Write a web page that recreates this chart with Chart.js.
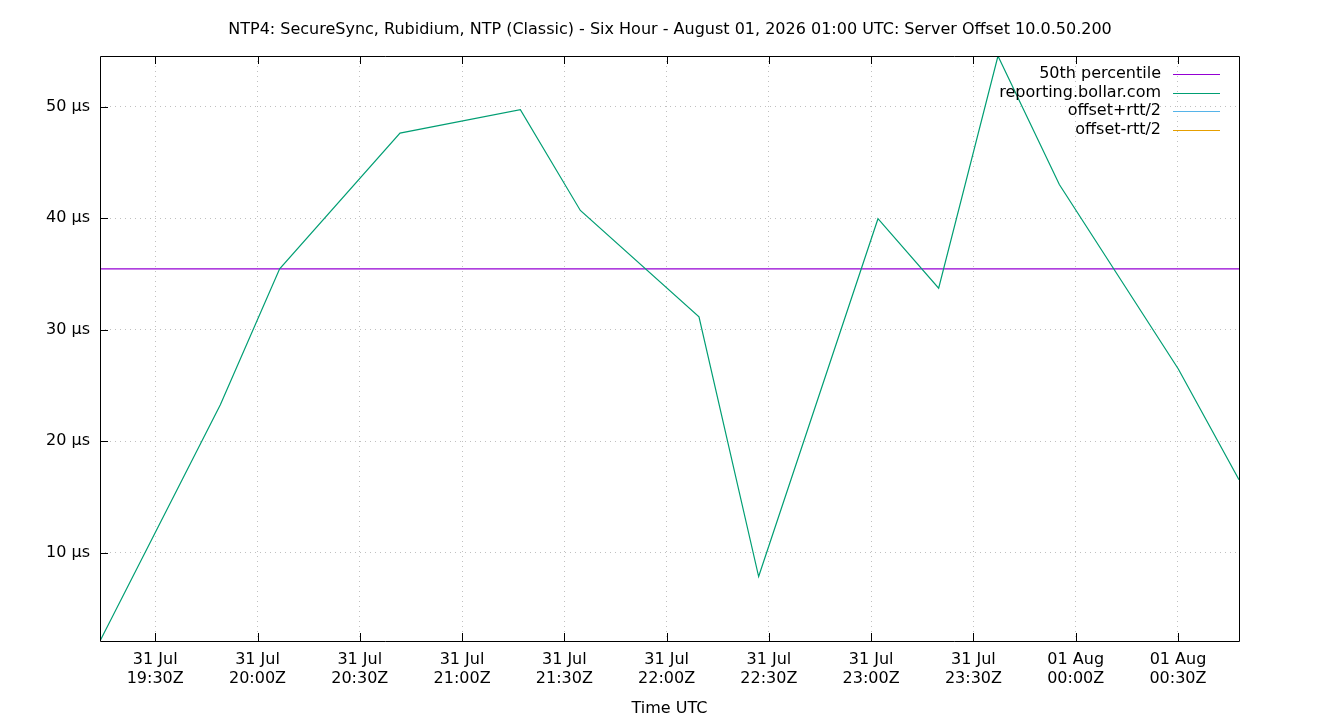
<!DOCTYPE html>
<html>
<head>
<meta charset="utf-8">
<title>NTP4 Server Offset</title>
<script src="https://cdn.jsdelivr.net/npm/chart.js@4.4.1/dist/chart.umd.min.js"></script>
<style>
html, body { margin: 0; padding: 0; background: #fff; }
#wrap { width: 1340px; height: 720px; }
</style>
</head>
<body>
<div id="wrap"><canvas id="offsetChart" width="1340" height="720"></canvas></div>
<script>
// sample times in minutes after 31 Jul 00:00Z, values in microseconds
let sampleMinutes = [1153.8, 1189.1, 1206.5, 1241.8, 1277.1, 1294.7, 1329.5, 1347.0, 1382.0, 1399.8, 1417.2, 1435.2, 1470.1, 1487.9];
let offsetMicros = [2.09, 23.28, 35.46, 47.63, 49.73, 40.69, 31.15, 7.87, 39.95, 33.72, 54.54, 43.02, 26.48, 16.54];
let percentile50 = 35.46;

// axis ticks
let xTickMinutes = [1170, 1200, 1230, 1260, 1290, 1320, 1350, 1380, 1410, 1440, 1470];
let xTickDays = ['31 Jul', '31 Jul', '31 Jul', '31 Jul', '31 Jul', '31 Jul', '31 Jul', '31 Jul', '31 Jul', '01 Aug', '01 Aug'];
let xTickTimes = ['19:30Z', '20:00Z', '20:30Z', '21:00Z', '21:30Z', '22:00Z', '22:30Z', '23:00Z', '23:30Z', '00:00Z', '00:30Z'];
let yTickValues = [10, 20, 30, 40, 50];

let seriesNames = ['50th percentile', 'reporting.bollar.com', 'offset+rtt/2', 'offset-rtt/2'];
let seriesColors = ['#9400d3', '#009e73', '#56b4e9', '#e69f00'];

let fontFam = "'DejaVu Sans', 'Liberation Sans', sans-serif";
let xMin = sampleMinutes[0];
let xMax = sampleMinutes[sampleMinutes.length - 1];

// build point lists for the line datasets
let offsetPoints = sampleMinutes.map((m, i) => ({ x: m, y: offsetMicros[i] }));
let percentilePoints = [{ x: xMin, y: percentile50 }, { x: xMax, y: percentile50 }];

// gnuplot style frame: box, inward tics (mirrored on top) and the key
const framePlugin = {
  id: 'frame',
  afterDraw(chart) {
    const ctx = chart.ctx;
    const a = chart.chartArea;
    const xs = chart.scales.x;
    const ys = chart.scales.y;
    ctx.save();
    ctx.strokeStyle = '#000';
    ctx.lineWidth = 1;
    ctx.beginPath();
    ctx.rect(Math.round(a.left) + 0.5, Math.round(a.top) + 0.5, Math.round(a.right - a.left), Math.round(a.bottom - a.top));
    xTickMinutes.forEach(v => {
      let px = Math.round(xs.getPixelForValue(v)) + 0.5;
      ctx.moveTo(px, a.bottom); ctx.lineTo(px, a.bottom - 8);
      ctx.moveTo(px, a.top); ctx.lineTo(px, a.top + 8);
    });
    yTickValues.forEach(v => {
      let py = Math.round(ys.getPixelForValue(v)) + 0.5;
      ctx.moveTo(a.left, py); ctx.lineTo(a.left + 8, py);
    });
    ctx.stroke();

    // key, top right inside the plot
    ctx.font = '16px ' + fontFam;
    ctx.textAlign = 'right';
    ctx.textBaseline = 'middle';
    chart.data.datasets.forEach((ds, i) => {
      let y = a.top + 18 + i * 18.6;
      ctx.fillStyle = '#000';
      ctx.fillText(ds.label, a.right - 78, y);
      ctx.strokeStyle = seriesColors[i];
      ctx.lineWidth = 1;
      ctx.beginPath();
      ctx.moveTo(a.right - 66, Math.round(y) + 0.5);
      ctx.lineTo(a.right - 19, Math.round(y) + 0.5);
      ctx.stroke();
    });
    ctx.restore();
  }
};

const gridDots = {
  color: '#c0c0c0',
  lineWidth: 1,
  drawTicks: false
};

new Chart(document.getElementById('offsetChart'), {
  type: 'line',
  data: {
    datasets: [
      {
        label: seriesNames[0],
        data: percentilePoints,
        borderColor: seriesColors[0],
        borderWidth: 1.3,
        pointRadius: 0,
        order: 1
      },
      {
        label: seriesNames[1],
        data: offsetPoints,
        borderColor: seriesColors[1],
        borderWidth: 1.2,
        pointRadius: 0,
        tension: 0,
        order: 0
      },
      {
        label: seriesNames[2],
        data: [],
        borderColor: seriesColors[2],
        borderWidth: 1.2,
        pointRadius: 0
      },
      {
        label: seriesNames[3],
        data: [],
        borderColor: seriesColors[3],
        borderWidth: 1.2,
        pointRadius: 0
      }
    ]
  },
  options: {
    responsive: false,
    animation: false,
    layout: { padding: 0 },
    plugins: {
      legend: { display: false },
      tooltip: { enabled: false },
      title: {
        display: true,
        text: 'NTP4: SecureSync, Rubidium, NTP (Classic) - Six Hour - August 01, 2026 01:00 UTC: Server Offset 10.0.50.200',
        color: '#000',
        font: { family: fontFam, size: 16, weight: 'normal', lineHeight: 1.15 },
        padding: { top: 21, bottom: 16.6 }
      }
    },
    scales: {
      x: {
        type: 'linear',
        min: xMin,
        max: xMax,
        afterBuildTicks: scale => { scale.ticks = xTickMinutes.map(v => ({ value: v })); },
        afterFit: scale => { scale.height = 79; },
        grid: gridDots,
        border: { display: false, dash: [1, 4] },
        ticks: {
          color: '#000',
          font: { family: fontFam, size: 16, lineHeight: 1.15 },
          padding: 10,
          maxRotation: 0,
          autoSkip: false,
          callback: (v, i) => [xTickDays[i], xTickTimes[i]]
        },
        title: {
          display: true,
          text: 'Time UTC',
          color: '#000',
          font: { family: fontFam, size: 16, lineHeight: 1.15 },
          padding: { top: 0, bottom: 2 }
        }
      },
      y: {
        type: 'linear',
        min: Math.min(...offsetMicros),
        max: Math.max(...offsetMicros),
        afterBuildTicks: scale => { scale.ticks = yTickValues.map(v => ({ value: v })); },
        afterFit: scale => { scale.width = 100; },
        grid: gridDots,
        border: { display: false, dash: [1, 4] },
        ticks: {
          color: '#000',
          font: { family: fontFam, size: 16, lineHeight: 1.15 },
          padding: 10,
          callback: v => v + ' µs'
        }
      },
      // empty axis on the right just to keep the plot's right margin
      y2: {
        type: 'linear',
        position: 'right',
        display: true,
        afterFit: scale => { scale.width = 101; },
        grid: { display: false, drawOnChartArea: false },
        border: { display: false },
        ticks: { display: false }
      }
    }
  },
  plugins: [framePlugin]
});
</script>
</body>
</html>
